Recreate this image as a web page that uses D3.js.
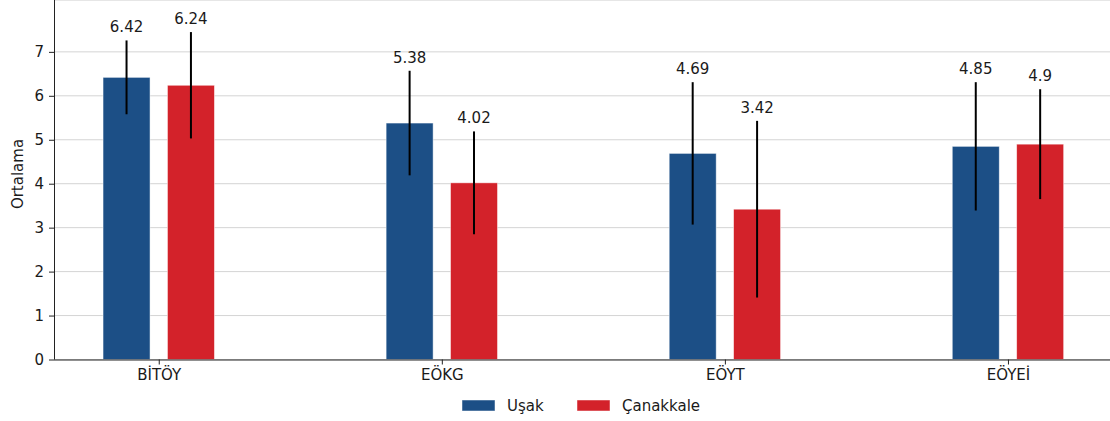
<!DOCTYPE html>
<html>
<head>
<meta charset="utf-8">
<script src="https://cdn.jsdelivr.net/npm/d3@7"></script>
<style>
  body { margin: 0; background: white; }
  text { font-family: "DejaVu Sans", sans-serif; fill: #1a1a1a; }
</style>
</head>
<body>
<script>
// data
const categories = ["BİTÖY", "EÖKG", "EÖYT", "EÖYEİ"];
const seriesNames = ["Uşak", "Çanakkale"];
const usakMeans = [6.42, 5.38, 4.69, 4.85];
const canakkaleMeans = [6.24, 4.02, 3.42, 4.9];
const usakSD = [0.84, 1.19, 1.62, 1.46];
const canakkaleSD = [1.21, 1.17, 2.01, 1.25];
const yTicks = [0, 1, 2, 3, 4, 5, 6, 7];

const colors = ["#1c4f86", "#d3222a"];
const means = [usakMeans, canakkaleMeans];
const sds = [usakSD, canakkaleSD];

// canvas and plot area
const width = 1110;
const height = 421;
const left = 54;
const right = 1112.7;
const bottom = 359.5;
const fontSize = "15px";

const svg = d3.select("body").append("svg")
  .attr("width", width).attr("height", height);

const x = d3.scalePoint().domain(categories).range([left, right]).padding(0.37);
const y = d3.scaleLinear().domain([0, 8.18]).range([bottom, 0]);

const barWidth = 47;
const offsets = [-32.2, 32.2];

// grid lines behind the bars
svg.append("g").selectAll("line")
  .data(yTicks)
  .enter().append("line")
  .attr("x1", left).attr("x2", width)
  .attr("y1", d => y(d)).attr("y2", d => y(d))
  .attr("stroke", "#d4d4d4").attr("stroke-width", 1);
svg.append("line")
  .attr("x1", left).attr("x2", width)
  .attr("y1", 0.5).attr("y2", 0.5)
  .attr("stroke", "#e6e6e6").attr("stroke-width", 1);

// bars, error bars and value labels
seriesNames.forEach((name, s) => {
  const g = svg.append("g");
  categories.forEach((cat, i) => {
    const cx = x(cat) + offsets[s];
    const m = means[s][i];
    const sd = sds[s][i];
    g.append("rect")
      .attr("x", cx - barWidth / 2)
      .attr("y", y(m))
      .attr("width", barWidth)
      .attr("height", y(0) - y(m))
      .attr("fill", colors[s])
      .attr("stroke", "white").attr("stroke-opacity", 0.6).attr("stroke-width", 0.8);
    g.append("line")
      .attr("x1", cx).attr("x2", cx)
      .attr("y1", y(m - sd)).attr("y2", y(m + sd))
      .attr("stroke", "black").attr("stroke-width", 2);
    g.append("text")
      .text(m)
      .attr("x", cx)
      .attr("y", y(m + sd) - 8)
      .attr("text-anchor", "middle")
      .style("font-size", fontSize);
  });
});

// x axis
const xAxis = svg.append("g")
  .attr("transform", `translate(0,${bottom})`)
  .call(d3.axisBottom(x).tickSize(5).tickPadding(5));
xAxis.select(".domain").attr("d", `M${left},0.5H${width}`).attr("stroke", "#222");
xAxis.selectAll(".tick line").attr("stroke", "#222");
xAxis.selectAll("text").style("font-size", fontSize).attr("fill", "#1a1a1a");

// y axis
const yAxis = svg.append("g")
  .attr("transform", `translate(${left},0)`)
  .call(d3.axisLeft(y).tickValues(yTicks).tickSize(5).tickPadding(5));
yAxis.select(".domain").attr("d", `M0.5,${bottom}V0`).attr("stroke", "#222");
yAxis.selectAll(".tick line").attr("stroke", "#222");
yAxis.selectAll("text").style("font-size", fontSize).attr("fill", "#1a1a1a");

// y label
svg.append("text")
  .text("Ortalama")
  .attr("transform", "translate(23,174) rotate(-90)")
  .attr("text-anchor", "middle")
  .style("font-size", fontSize);

// legend
const legendX = [462, 577];
seriesNames.forEach((name, s) => {
  svg.append("rect")
    .attr("x", legendX[s]).attr("y", 400)
    .attr("width", 33).attr("height", 11)
    .attr("fill", colors[s])
    .attr("stroke", "white").attr("stroke-opacity", 0.6).attr("stroke-width", 0.8);
  svg.append("text")
    .text(name)
    .attr("x", legendX[s] + 45)
    .attr("y", 411)
    .style("font-size", fontSize);
});
</script>
</body>
</html>
